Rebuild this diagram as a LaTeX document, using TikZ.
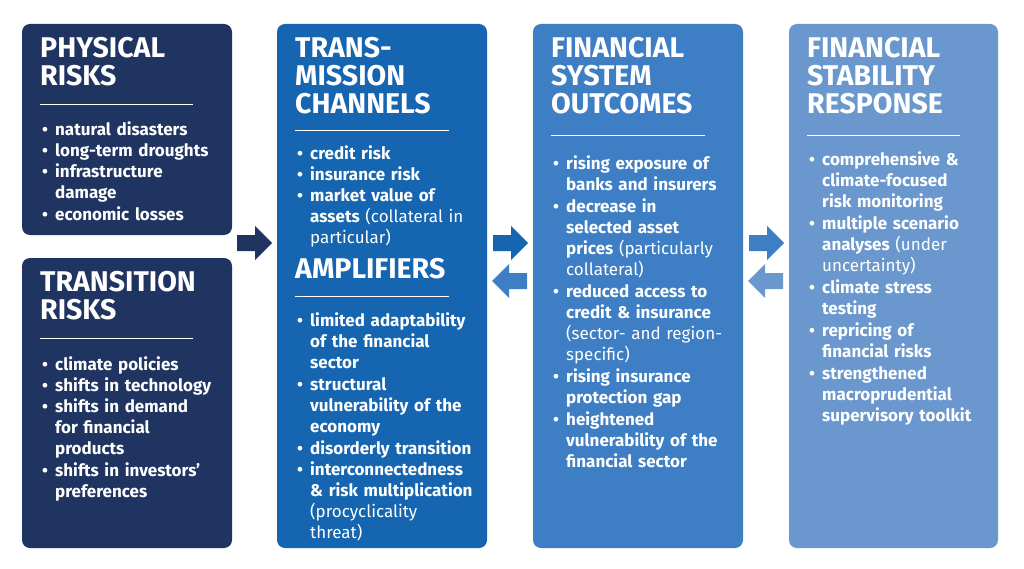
\documentclass[tikz,border=0pt]{standalone}
\usepackage{fontspec}
\setmainfont{Fira Sans}
\definecolor{cA}{HTML}{1F3461}
\definecolor{cB}{HTML}{1565B0}
\definecolor{cC}{HTML}{3D7EC4}
\definecolor{cD}{HTML}{6A98CE}
\newcommand{\bi}[1]{\par\noindent\makebox[15pt][l]{\hspace{2pt}\textbullet}\parbox[t]{178pt}{\raggedright\strut #1\strut}}
\newcommand{\nb}[1]{\textmd{#1}}
\tikzset{
 panel/.style={rounded corners=8pt,inner sep=0},
 ttl/.style={anchor=north west,align=left,text=white,font=\fontsize{28.5}{28}\selectfont\bfseries,inner sep=0},
 lst/.style={anchor=north west,text=white,text width=195pt,font=\fontsize{17}{21}\selectfont\bfseries,inner sep=0,align=left},
 sep/.style={white,line width=0.8pt}
}
\newcommand{\rarr}[3]{\fill[#3] (#1-17,#2-8) -- (#1+1,#2-8) -- (#1+1,#2-17) -- (#1+18,#2) -- (#1+1,#2+17) -- (#1+1,#2+8) -- (#1-17,#2+8) -- cycle;}
\newcommand{\larr}[3]{\fill[#3] (#1+17,#2-8) -- (#1-1,#2-8) -- (#1-1,#2-17) -- (#1-18,#2) -- (#1-1,#2+17) -- (#1-1,#2+8) -- (#1+17,#2+8) -- cycle;}
\begin{document}
\begin{tikzpicture}[x=1pt,y=-1pt]
\useasboundingbox (0,0) rectangle (1024,569);
\fill[white] (0,0) rectangle (1024,569);
\fill[cA,panel] (22,24) rectangle (232,235);
\fill[cA,panel] (22,258) rectangle (232,548);
\fill[cB,panel] (277,24) rectangle (487,548);
\fill[cC,panel] (533,24) rectangle (743,548);
\fill[cD,panel] (789,24) rectangle (998,548);
% arrows
\rarr{254}{243}{cA}
\rarr{510}{243}{cB}
\larr{510}{281}{cC}
\rarr{766}{243}{cC}
\larr{766}{281}{cD}
% col1
\node[ttl] (t1) at (40,37) {PHYSICAL\\RISKS};
\draw[sep] (40,104) -- (193,104);
\node[lst] (l1) at (40,114) {\bi{natural disasters}\bi{long-term droughts}\bi{infrastructure\\damage}\bi{economic losses}};
\node[ttl] (t2) at (40,271) {TRANSITION\\RISKS};
\draw[sep] (40,338) -- (193,338);
\node[lst] (l2) at (40,349) {\bi{climate policies}\bi{shifts in technology}\bi{shifts in demand\\for financial\\products}\bi{shifts in investors'\\preferences}};
% col2
\node[ttl] (t3) at (295,37) {TRANS-\\MISSION\\CHANNELS};
\draw[sep] (295,130) -- (449,130);
\node[lst] (l3) at (295,138) {\bi{credit risk}\bi{insurance risk}\bi{market value of\\assets \nb{(collateral in\\particular)}}};
\node[ttl] (t4) at (295,258) {AMPLIFIERS};
\draw[sep] (295,296) -- (449,296);
\node[lst] (l4) at (295,305) {\bi{limited adaptability\\of the financial\\sector}\bi{structural\\vulnerability of the\\economy}\bi{disorderly transition}\bi{interconnectedness\\\& risk multiplication\\\nb{(procyclicality\\threat)}}};
% col3
\node[ttl] (t5) at (551,37) {FINANCIAL\\SYSTEM\\OUTCOMES};
\draw[sep] (551,135) -- (705,135);
\node[lst] (l5) at (551,148) {\bi{rising exposure of\\banks and insurers}\bi{decrease in\\selected asset\\prices \nb{(particularly\\collateral)}}\bi{reduced access to\\credit \& insurance\\\nb{(sector- and region-\\specific)}}\bi{rising insurance\\protection gap}\bi{heightened\\vulnerability of the\\financial sector}};
% col4
\node[ttl] (t6) at (807,37) {FINANCIAL\\STABILITY\\RESPONSE};
\draw[sep] (807,135) -- (960,135);
\node[lst] (l6) at (807,144) {\bi{comprehensive \&\\climate-focused\\risk monitoring}\bi{multiple scenario\\analyses \nb{(under\\uncertainty)}}\bi{climate stress\\testing}\bi{repricing of\\financial risks}\bi{strengthened\\macroprudential\\supervisory toolkit}};
\end{tikzpicture}
\end{document}
